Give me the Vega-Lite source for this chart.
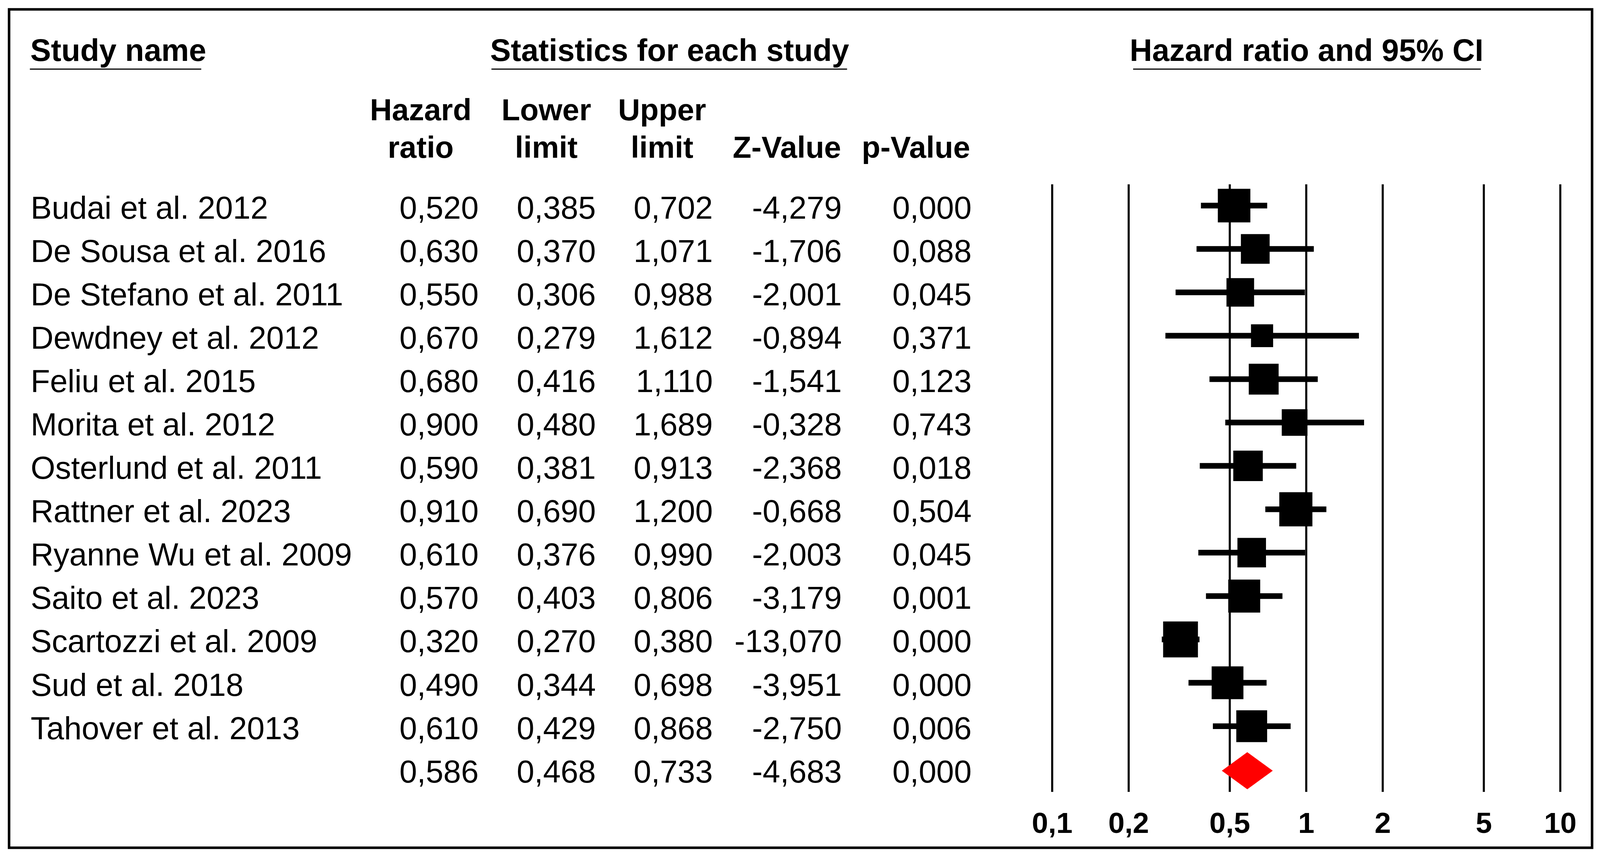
{
  "$schema": "https://vega.github.io/schema/vega-lite/v6.json",
  "width": 4052.5,
  "height": 2147,
  "autosize": {"type": "none"},
  "padding": {"left": 23.2, "top": 24, "right": 20.3, "bottom": 16},
  "background": "white",
  "config": {
    "view": {"stroke": "black", "strokeWidth": 6.5},
    "font": "Liberation Sans",
    "locale": {
      "number": {"decimal": ",", "thousands": ".", "grouping": [3], "currency": ["", ""], "minus": "-"}
    }
  },
  "datasets": {
    "table": [
      {"study": "Budai et al. 2012", "type": "study", "row": 0, "hr": 0.520, "lower": 0.385, "upper": 0.702, "z": -4.279, "p": 0.000, "weight": 9.07},
      {"study": "De Sousa et al. 2016", "type": "study", "row": 1, "hr": 0.630, "lower": 0.370, "upper": 1.071, "z": -1.706, "p": 0.088, "weight": 7.08},
      {"study": "De Stefano et al. 2011", "type": "study", "row": 2, "hr": 0.550, "lower": 0.306, "upper": 0.988, "z": -2.001, "p": 0.045, "weight": 6.54},
      {"study": "Dewdney et al. 2012", "type": "study", "row": 3, "hr": 0.670, "lower": 0.279, "upper": 1.612, "z": -0.894, "p": 0.371, "weight": 4.20},
      {"study": "Feliu et al. 2015", "type": "study", "row": 4, "hr": 0.680, "lower": 0.416, "upper": 1.110, "z": -1.541, "p": 0.123, "weight": 7.65},
      {"study": "Morita et al. 2012", "type": "study", "row": 5, "hr": 0.900, "lower": 0.480, "upper": 1.689, "z": -0.328, "p": 0.743, "weight": 5.67},
      {"study": "Osterlund et al. 2011", "type": "study", "row": 6, "hr": 0.590, "lower": 0.381, "upper": 0.913, "z": -2.368, "p": 0.018, "weight": 7.46},
      {"study": "Rattner et al. 2023", "type": "study", "row": 7, "hr": 0.910, "lower": 0.690, "upper": 1.200, "z": -0.668, "p": 0.504, "weight": 9.39},
      {"study": "Ryanne Wu et al. 2009", "type": "study", "row": 8, "hr": 0.610, "lower": 0.376, "upper": 0.990, "z": -2.003, "p": 0.045, "weight": 6.99},
      {"study": "Saito et al. 2023", "type": "study", "row": 9, "hr": 0.570, "lower": 0.403, "upper": 0.806, "z": -3.179, "p": 0.001, "weight": 8.76},
      {"study": "Scartozzi et al. 2009", "type": "study", "row": 10, "hr": 0.320, "lower": 0.270, "upper": 0.380, "z": -13.070, "p": 0.000, "weight": 10.38},
      {"study": "Sud et al. 2018", "type": "study", "row": 11, "hr": 0.490, "lower": 0.344, "upper": 0.698, "z": -3.951, "p": 0.000, "weight": 8.65},
      {"study": "Tahover et al. 2013", "type": "study", "row": 12, "hr": 0.610, "lower": 0.429, "upper": 0.868, "z": -2.750, "p": 0.006, "weight": 8.15},
      {"study": "", "type": "pooled", "row": 13, "hr": 0.586, "lower": 0.468, "upper": 0.733, "z": -4.683, "p": 0.000, "weight": 100}
    ],
    "ticks": [
      {"v": 0.1}, {"v": 0.2}, {"v": 0.5}, {"v": 1}, {"v": 2}, {"v": 5}, {"v": 10}
    ]
  },
  "data": {"values": [{"k": 1}]},
  "layer": [
    {
      "data": {"name": "ticks"},
      "mark": {"type": "rule", "color": "black", "strokeWidth": 5.3},
      "encoding": {
        "x": {"field": "v", "type": "quantitative", "scale": {"type": "log", "domain": [0.000007835, 13.337], "nice": false}, "axis": null},
        "y": {"datum": -0.518, "type": "quantitative", "scale": {"type": "linear", "domain": [-4.55, 14.775], "reverse": true, "nice": false, "zero": false}, "axis": null},
        "y2": {"datum": 13.487}
      }
    },
    {
      "data": {"name": "table"},
      "transform": [{"filter": "datum.type === 'study'"}],
      "mark": {"type": "rule", "color": "black", "strokeWidth": 14.5, "yOffset": -3},
      "encoding": {
        "x": {"field": "lower", "type": "quantitative", "scale": {"type": "log", "domain": [0.000007835, 13.337], "nice": false}, "axis": null},
        "x2": {"field": "upper"},
        "y": {"field": "row", "type": "quantitative", "scale": {"type": "linear", "domain": [-4.55, 14.775], "reverse": true, "nice": false, "zero": false}, "axis": null}
      }
    },
    {
      "data": {"name": "table"},
      "transform": [{"filter": "datum.type === 'study'"}],
      "mark": {"type": "point", "shape": "M-0.9686,-1L0.9686,-1L0.9686,1L-0.9686,1Z", "filled": true, "color": "black", "opacity": 1, "strokeWidth": 0, "yOffset": -3},
      "encoding": {
        "x": {"field": "hr", "type": "quantitative", "scale": {"type": "log", "domain": [0.000007835, 13.337], "nice": false}, "axis": null},
        "y": {"field": "row", "type": "quantitative", "scale": {"type": "linear", "domain": [-4.55, 14.775], "reverse": true, "nice": false, "zero": false}, "axis": null},
        "size": {"field": "weight", "type": "quantitative", "scale": {"type": "linear", "domain": [0, 100], "range": [0, 81530], "zero": true}, "legend": null}
      }
    },
    {
      "data": {"name": "table"},
      "transform": [{"filter": "datum.type === 'pooled'"}],
      "mark": {"type": "point", "shape": "M-1.3726,0L0,-1L1.3726,0L0,1Z", "filled": true, "color": "#ff0000", "opacity": 1, "strokeWidth": 0, "size": 9025},
      "encoding": {
        "x": {"field": "hr", "type": "quantitative", "scale": {"type": "log", "domain": [0.000007835, 13.337], "nice": false}, "axis": null},
        "y": {"field": "row", "type": "quantitative", "scale": {"type": "linear", "domain": [-4.55, 14.775], "reverse": true, "nice": false, "zero": false}, "axis": null}
      }
    },
    {
      "data": {"name": "table"},
      "mark": {"type": "text", "align": "left", "baseline": "alphabetic", "dy": 30, "fontSize": 81, "color": "black"},
      "encoding": {
        "x": {"value": 55.2},
        "y": {"field": "row", "type": "quantitative", "scale": {"type": "linear", "domain": [-4.55, 14.775], "reverse": true, "nice": false, "zero": false}, "axis": null},
        "text": {"field": "study"}
      }
    },
    {
      "data": {"name": "table"},
      "mark": {"type": "text", "align": "right", "baseline": "alphabetic", "dy": 30, "fontSize": 81, "color": "black"},
      "encoding": {
        "x": {"value": 1202},
        "y": {"field": "row", "type": "quantitative", "scale": {"type": "linear", "domain": [-4.55, 14.775], "reverse": true, "nice": false, "zero": false}, "axis": null},
        "text": {"field": "hr", "type": "quantitative", "format": ".3f"}
      }
    },
    {
      "data": {"name": "table"},
      "mark": {"type": "text", "align": "right", "baseline": "alphabetic", "dy": 30, "fontSize": 81, "color": "black"},
      "encoding": {
        "x": {"value": 1502.2},
        "y": {"field": "row", "type": "quantitative", "scale": {"type": "linear", "domain": [-4.55, 14.775], "reverse": true, "nice": false, "zero": false}, "axis": null},
        "text": {"field": "lower", "type": "quantitative", "format": ".3f"}
      }
    },
    {
      "data": {"name": "table"},
      "mark": {"type": "text", "align": "right", "baseline": "alphabetic", "dy": 30, "fontSize": 81, "color": "black"},
      "encoding": {
        "x": {"value": 1801.5},
        "y": {"field": "row", "type": "quantitative", "scale": {"type": "linear", "domain": [-4.55, 14.775], "reverse": true, "nice": false, "zero": false}, "axis": null},
        "text": {"field": "upper", "type": "quantitative", "format": ".3f"}
      }
    },
    {
      "data": {"name": "table"},
      "mark": {"type": "text", "align": "right", "baseline": "alphabetic", "dy": 30, "fontSize": 81, "color": "black"},
      "encoding": {
        "x": {"value": 2131.8},
        "y": {"field": "row", "type": "quantitative", "scale": {"type": "linear", "domain": [-4.55, 14.775], "reverse": true, "nice": false, "zero": false}, "axis": null},
        "text": {"field": "z", "type": "quantitative", "format": ".3f"}
      }
    },
    {
      "data": {"name": "table"},
      "mark": {"type": "text", "align": "right", "baseline": "alphabetic", "dy": 30, "fontSize": 81, "color": "black"},
      "encoding": {
        "x": {"value": 2464},
        "y": {"field": "row", "type": "quantitative", "scale": {"type": "linear", "domain": [-4.55, 14.775], "reverse": true, "nice": false, "zero": false}, "axis": null},
        "text": {"field": "p", "type": "quantitative", "format": ".3f"}
      }
    },
    {
      "data": {"name": "ticks"},
      "mark": {"type": "text", "align": "center", "baseline": "alphabetic", "fontSize": 75, "fontWeight": "bold", "color": "black"},
      "encoding": {
        "x": {"field": "v", "type": "quantitative", "scale": {"type": "log", "domain": [0.000007835, 13.337], "nice": false}, "axis": null},
        "y": {"datum": 14.433, "type": "quantitative", "scale": {"type": "linear", "domain": [-4.55, 14.775], "reverse": true, "nice": false, "zero": false}, "axis": null},
        "text": {"field": "v", "type": "quantitative", "format": "~g"}
      }
    },
    {
      "mark": {"type": "text", "text": "Study name", "align": "left", "baseline": "alphabetic", "fontSize": 79.5, "fontWeight": "bold", "color": "black"},
      "encoding": {
        "x": {"value": 54.2},
        "y": {"datum": -3.362, "type": "quantitative", "scale": {"type": "linear", "domain": [-4.55, 14.775], "reverse": true, "nice": false, "zero": false}, "axis": null}
      }
    },
    {
      "mark": {"type": "text", "text": "Statistics for each study", "align": "center", "baseline": "alphabetic", "fontSize": 79.5, "fontWeight": "bold", "color": "black"},
      "encoding": {
        "x": {"value": 1691.1},
        "y": {"datum": -3.362, "type": "quantitative", "scale": {"type": "linear", "domain": [-4.55, 14.775], "reverse": true, "nice": false, "zero": false}, "axis": null}
      }
    },
    {
      "mark": {"type": "text", "text": "Hazard ratio and 95% CI", "align": "center", "baseline": "alphabetic", "fontSize": 79.5, "fontWeight": "bold", "color": "black"},
      "encoding": {
        "x": {"value": 3321.6},
        "y": {"datum": -3.362, "type": "quantitative", "scale": {"type": "linear", "domain": [-4.55, 14.775], "reverse": true, "nice": false, "zero": false}, "axis": null}
      }
    },
    {
      "mark": {"type": "rule", "color": "black", "strokeWidth": 3},
      "encoding": {
        "x": {"value": 53.3},
        "x2": {"value": 492},
        "y": {"datum": -3.173, "type": "quantitative", "scale": {"type": "linear", "domain": [-4.55, 14.775], "reverse": true, "nice": false, "zero": false}, "axis": null}
      }
    },
    {
      "mark": {"type": "rule", "color": "black", "strokeWidth": 3},
      "encoding": {
        "x": {"value": 1234.9},
        "x2": {"value": 2145.3},
        "y": {"datum": -3.173, "type": "quantitative", "scale": {"type": "linear", "domain": [-4.55, 14.775], "reverse": true, "nice": false, "zero": false}, "axis": null}
      }
    },
    {
      "mark": {"type": "rule", "color": "black", "strokeWidth": 3},
      "encoding": {
        "x": {"value": 2877.6},
        "x2": {"value": 3767.7},
        "y": {"datum": -3.173, "type": "quantitative", "scale": {"type": "linear", "domain": [-4.55, 14.775], "reverse": true, "nice": false, "zero": false}, "axis": null}
      }
    },
    {
      "mark": {"type": "text", "text": ["Hazard", "ratio"], "lineHeight": 96.3, "align": "center", "baseline": "alphabetic", "fontSize": 78, "fontWeight": "bold", "color": "black"},
      "encoding": {
        "x": {"value": 1053.8},
        "y": {"datum": -1.996, "type": "quantitative", "scale": {"type": "linear", "domain": [-4.55, 14.775], "reverse": true, "nice": false, "zero": false}, "axis": null}
      }
    },
    {
      "mark": {"type": "text", "text": ["Lower", "limit"], "lineHeight": 96.3, "align": "center", "baseline": "alphabetic", "fontSize": 78, "fontWeight": "bold", "color": "black"},
      "encoding": {
        "x": {"value": 1375.3},
        "y": {"datum": -1.996, "type": "quantitative", "scale": {"type": "linear", "domain": [-4.55, 14.775], "reverse": true, "nice": false, "zero": false}, "axis": null}
      }
    },
    {
      "mark": {"type": "text", "text": ["Upper", "limit"], "lineHeight": 96.3, "align": "center", "baseline": "alphabetic", "fontSize": 78, "fontWeight": "bold", "color": "black"},
      "encoding": {
        "x": {"value": 1671.7},
        "y": {"datum": -1.996, "type": "quantitative", "scale": {"type": "linear", "domain": [-4.55, 14.775], "reverse": true, "nice": false, "zero": false}, "axis": null}
      }
    },
    {
      "mark": {"type": "text", "text": "Z-Value", "align": "center", "baseline": "alphabetic", "fontSize": 78, "fontWeight": "bold", "color": "black"},
      "encoding": {
        "x": {"value": 1991.3},
        "y": {"datum": -1.13, "type": "quantitative", "scale": {"type": "linear", "domain": [-4.55, 14.775], "reverse": true, "nice": false, "zero": false}, "axis": null}
      }
    },
    {
      "mark": {"type": "text", "text": "p-Value", "align": "center", "baseline": "alphabetic", "fontSize": 78, "fontWeight": "bold", "color": "black"},
      "encoding": {
        "x": {"value": 2321.6},
        "y": {"datum": -1.13, "type": "quantitative", "scale": {"type": "linear", "domain": [-4.55, 14.775], "reverse": true, "nice": false, "zero": false}, "axis": null}
      }
    }
  ]
}
